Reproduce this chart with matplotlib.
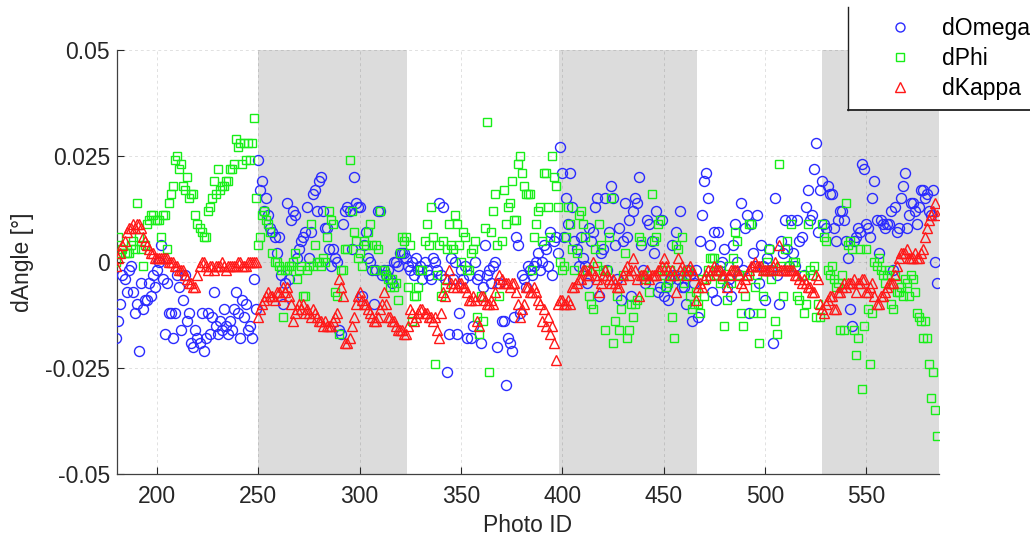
import numpy as np
import matplotlib
matplotlib.use("Agg")
import matplotlib.pyplot as plt
from matplotlib.lines import Line2D

plt.rcParams["font.family"] = ["Liberation Sans", "DejaVu Sans"]

# Photo IDs 180..585, one value per photo, angles stored in 1e-3 degrees
photo_id = list(range(180, 586))

d_omega = [
    -18, -14, -10, -3, -4, -7, -2, -1, -7, -12,      # 180
    -10, -21, -5, -11, -9, -9, -5, -8, -3, -6,       # 190
    -2, 0, 4, -4, -17, -5, -12, -12, -18, -12,       # 200
    -3, -6, -16, -9, -3, -14, -12, -19, -20, -16,    # 210
    -18, -19, -12, -21, -18, -12, -17, -13, -7, -15, # 220
    -17, -14, -16, -11, -15, -17, -14, -16, -11, -7, # 230
    -12, -18, -9, -13, -10, -16, -15, -18, -4, -11,  # 240
    24, 17, 19, 12, 15, 11, 8, 7, 6, 2,              # 250
    6, -3, -10, -5, 14, -4, 10, 12, 11, 1,           # 260
    3, 5, 6, 7, 13, 1, 7, 16, 17, 12,                # 270
    19, 20, 12, 8, 8, 3, -1, 3, 1, 0,                # 280
    -16, -17, 9, 12, 13, 12, 3, 20, 14, 13,          # 290
    13, -8, 4, 7, 1, 0, -2, -10, -2, 12,             # 300
    12, -3, -2, -3, -2, -4, -5, 0, 0, -1,            # 310
    2, 2, 2, 1, -1, -2, 0, -3, 1, -2,                # 320
    -1, -4, 0, -2, -3, -4, 1, 0, -2, 14,             # 330
    -3, 13, -4, -26, -17, 1, -4, 0, -17, -12,        # 340
    -2, -4, -1, -18, -3, -18, -15, 0, -4, -3,        # 350
    -19, -6, 4, -3, -2, -5, -1, 0, -20, -5,          # 360
    -14, -14, -29, -18, -19, -21, -13, 6, 4, -12,    # 370
    -3, -4, -6, -1, -2, -3, -1, 0, 2, -2,            # 380
    0, 4, 3, -1, 7, -3, 5, 6, 2, 27,                 # 390
    21, 6, 15, 9, 21, 13, 5, 3, -1, 6,               # 400
    1, -1, -5, 8, 5, 7, 13, 15, -8, 2,               # 410
    3, 15, -2, 7, 18, 15, 4, -4, 8, -9,              # 420
    5, 14, 6, 10, -8, 12, 15, 14, 20, 4,             # 430
    -2, -5, 10, 9, 5, 2, 12, -7, -6, 10,             # 440
    -8, -6, -9, -4, 4, -3, 7, -4, 12, -6,            # 450
    -6, -10, -2, -3, -14, -5, -2, -13, 5, 11,        # 460
    19, 21, 15, 4, -7, 7, -9, 7, -1, 0,              # 470
    3, -6, -4, -8, 4, 9, 0, -3, 14, -2,              # 480
    8, 11, -12, 9, 2, -1, 11, -5, 4, -1,             # 490
    -9, 1, 3, -2, -19, 15, -3, -10, 5, 2,            # 500
    10, 3, -1, 10, 2, -1, 10, 5, 6, -3,              # 510
    13, 17, 10, 11, 22, 28, 7, 17, 19, 9,            # 520
    8, 18, 16, 16, 8, 5, 10, 12, 12, 10,             # 530
    5, 1, -11, -15, 5, 6, 8, 7, 23, 22,              # 540
    9, 8, 6, 15, 19, 10, 2, 10, 9, 8,                # 550
    9, 9, 12, -2, 13, 7, 8, 15, 18, 21,              # 560
    8, 11, 14, 14, 12, 9, 13, 17, 17, 15,            # 570
    16, 12, 11, 17, 0, -5,                           # 580
]

d_phi = [
    0, 6, 2, 3, 2, 2, 2, 4, 5, 3,                    # 180
    14, 6, 3, -1, 4, 9, 10, 11, 11, 10,              # 190
    10, 10, 6, 11, 11, 3, 14, 16, 18, 24,            # 200
    25, 22, 23, 18, 17, 20, 15, 16, 16, 11,          # 210
    9, 8, 7, 6, 6, 12, 13, 15, 19, 16,               # 220
    22, 17, 18, 18, 19, 19, 22, 22, 23, 29,          # 230
    27, 28, 23, 28, 24, 28, 24, 28, 34, 15,          # 240
    4, 6, 11, 12, 10, 9, 7, 2, 0, 0,                 # 250
    -1, -2, -13, -2, -2, -1, -1, 0, 2, -4,           # 260
    -2, -1, -8, -8, -2, -1, 9, -1, 4, 0,             # 270
    0, -1, 1, 0, 6, 12, 10, 9, -7, -8,               # 280
    -17, -2, -2, 3, 3, 24, 12, 7, 5, 1,              # 290
    2, -1, 5, 4, 7, 9, 4, -2, 4, 3,                  # 300
    12, -2, -2, -3, -4, -6, -4, -6, -5, -9,          # 310
    2, 6, 5, 6, -6, 4, -14, -8, -8, -6,              # 320
    -2, -2, 5, 9, 4, 13, 6, -24, -3, 4,              # 330
    -8, 5, -6, 3, 9, 4, 3, 11, 9, 4,                 # 340
    0, 7, 6, -2, -2, 2, 3, 5, -13, -17,              # 350
    -8, -14, 8, 33, -26, 7, 12, 16, 4, -8,           # 360
    5, 17, 9, 13, 14, 19, 10, 10, 23, 25,            # 370
    21, 18, 16, 16, 16, -2, 6, 9, 12, 13,            # 380
    5, 21, 21, 13, 6, 25, 20, 18, 13, 0,             # 390
    -2, -1, 6, 13, 9, 3, -2, 2, 11, 12,              # 400
    9, 6, -2, -8, -10, -11, 3, -1, 9, 4,             # 410
    -2, -16, -2, 6, 15, -19, -14, -8, -16, -11,      # 420
    -3, 2, -18, -16, -10, -13, -10, -9, 6, 5,        # 430
    -3, -4, -3, -7, 16, 5, 6, 9, 10, -2,             # 440
    -3, -6, -5, -2, -13, -18, 4, 3, -3, 6,           # 450
    -5, -3, -2, -8, -11, -10, -7, -10, -12, -4,      # 460
    -8, -4, -2, 1, 1, 1, -3, -2, -5, -4,             # 470
    -15, -9, -1, -5, 1, 7, 5, -3, -12, -15,          # 480
    -8, -3, 9, 9, -12, -6, -3, -19, -12, -8,         # 490
    -2, 0, 3, -4, -2, -14, -17, 23, -1, -8,          # 500
    3, 5, -1, 9, 0, 0, -8, -9, -3, -12,              # 510
    -10, 9, -2, -3, -1, -13, -10, -13, 9, 6,         # 520
    5, -2, -3, -1, -4, -6, -5, -16, -3, -16,         # 530
    14, 4, 5, 3, -16, -22, -18, 3, -30, -15,         # 540
    3, -11, -24, -12, 0, -1, 1, -2, -3, -5,          # 550
    -3, -2, -10, -11, -3, -7, -7, -6, -8, -4,        # 560
    -5, -8, -3, -4, -7, -12, -13, -14, -18, -14,     # 570
    -18, -24, -32, -26, -35, -41,                    # 580
]

d_kappa = [
    -1, 1, 2, 4, 5, 7, 8, 8, 9, 8,                   # 180
    9, 9, 8, 6, 5, 4, 3, 2, 2, 1,                    # 190
    1, 1, 1, 1, 1, 1, 0, 0, 0, -1,                   # 200
    -1, -2, -2, -2, -3, -4, -5, -5, -6, -6,          # 210
    -3, -1, 0, 0, -1, -2, -1, -1, -2, -1,            # 220
    -1, -1, 0, -1, -2, -1, -1, -1, -1, -1,           # 230
    0, 0, -1, -1, -1, 0, 0, 0, 0, 0,                 # 240
    -13, -11, -10, -9, -8, -7, -8, -8, -9, -7,       # 250
    -7, -8, -6, -7, -6, -8, -10, -14, -12, -11,      # 260
    -10, -11, -10, -12, -11, -12, -13, -11, -12, -13, # 270
    -14, -14, -15, -14, -15, -15, -15, -14, -13, -12, # 280
    -4, -6, -8, -19, -19, -18, -15, -13, -10, -8,    # 290
    -7, -9, -10, -10, -11, -12, -13, -14, -14, -13,  # 300
    -11, -10, -7, -10, -13, -13, -14, -14, -15, -16, # 310
    -16, -16, -17, -17, -15, -11, -12, -14, -13, -12, # 320
    -11, -11, -12, -12, -13, -13, -14, -13, -16, -18, # 330
    -12, -7, -8, -4, -2, -5, -6, -5, -6, -5,         # 340
    -5, -6, -6, -7, -9, -9, -8, -9, -14, -15,        # 350
    -8, -8, -9, -10, -10, -9, -10, -7, -5, -3,       # 360
    -4, -5, -5, -5, -6, -5, -5, -7, -10, -13,        # 370
    -11, -10, -6, -6, -7, -7, -6, -7, -9, -10,       # 380
    -14, -11, -15, -13, -17, -15, -19, -23, -10, -9, # 390
    -9, -10, -10, -9, -10, -6, -6, -5, -4, -4,       # 400
    -2, -2, -3, -3, -2, 0, -3, -4, -7, -5,           # 410
    -3, -2, -3, -4, -5, -4, -5, -6, -6, -4,          # 420
    -3, -2, -1, -3, -2, 1, -2, -4, -8, -3,           # 430
    -3, -3, -2, -4, -3, -3, -3, -2, -2, -1,          # 440
    1, -1, -2, -3, -2, -3, -7, 1, -2, -1,            # 450
    -2, -3, -2, -1, -2, -3, -9, -6, -5, -6,          # 460
    -4, -3, -2, -3, -2, -1, -2, -2, -2, -3,          # 470
    -3, -6, -3, -2, -2, -2, -2, -3, -5, -6,          # 480
    -4, -3, -2, -1, -1, 0, -1, -1, -1, -2,           # 490
    -2, -2, -2, -2, -1, 0, -1, 4, -2, -2,            # 500
    -2, -2, -2, -2, -2, -3, -3, -4, -5, -4,          # 510
    -5, -6, -6, -7, -7, -3, -4, -10, -11, -12,       # 520
    -10, -9, -8, -8, -11, -11, -7, -7, -6, -5,       # 530
    -6, -5, -5, -5, -4, -7, -5, -5, -4, -4,          # 540
    -7, -7, -6, -5, -8, -10, -10, -8, -8, -7,        # 550
    -6, -5, -5, -5, -3, -1, 1, 2, 2, 2,              # 560
    3, 1, 1, 1, 2, 1, 1, 2, 3, 6,                    # 570
    8, 10, 11, 12, 14, 11,                           # 580
]

# grey bands (photo ID ranges)
bands = [(250, 323.5), (398.5, 466.5), (528, 590)]

x = np.array(photo_id)
scale = 1e-3
FS = 16.5

fig = plt.figure(figsize=(10.30, 5.37), dpi=100)
ax = fig.add_axes([0.1136, 0.1173, 0.798, 0.7897])

for x0, x1 in bands:
    ax.axvspan(x0, x1, color="#dcdcdc", lw=0, zorder=0)

ax.plot(x, np.array(d_omega) * scale, "o", ls="none", ms=7.2,
        mfc="none", mec="#2a2aff", mew=1.0, label="dOmega", zorder=3)
ax.plot(x, np.array(d_phi) * scale, "s", ls="none", ms=6.2,
        mfc="none", mec="#18ee18", mew=1.0, label="dPhi", zorder=3)
ax.plot(x, np.array(d_kappa) * scale, "^", ls="none", ms=7.8,
        mfc="none", mec="#ff1818", mew=1.0, label="dKappa", zorder=4)

ax.set_xlim(180.3, 585.8)
ax.set_ylim(-0.05, 0.05)
ax.set_xticks([200, 250, 300, 350, 400, 450, 500, 550])
ax.set_yticks([-0.05, -0.025, 0, 0.025, 0.05])
ax.set_yticklabels(["-0.05", "-0.025", "0", "0.025", "0.05"])
ax.grid(True, color="black", alpha=0.12, lw=0.7, ls=(0, (3, 3)), zorder=1)
ax.set_axisbelow(True)

for s in ("top", "right"):
    ax.spines[s].set_visible(False)
for s in ("left", "bottom"):
    ax.spines[s].set_color("#404040")
    ax.spines[s].set_linewidth(0.9)
ax.tick_params(axis="both", direction="in", length=5, width=0.8,
               labelsize=FS, colors="#262626", pad=5)
ax.tick_params(axis="x", pad=8)

ax.set_xlabel("Photo ID", fontsize=FS, color="#262626", labelpad=4)
ax.set_ylabel("dAngle [°]", fontsize=FS, color="#262626", labelpad=8)

# legend: box runs off the right/top edge, only left and bottom borders show
leg = ax.legend(loc="upper left", bbox_to_anchor=(848 / 1030, 1 - 7 / 537),
                bbox_transform=fig.transFigure, fontsize=FS, frameon=True,
                fancybox=False, borderpad=0.45, handlelength=3.6,
                handletextpad=0.05, labelspacing=0.3, numpoints=1,
                borderaxespad=0, markerscale=0.9)
leg.get_frame().set_edgecolor("none")
leg.get_frame().set_facecolor("white")
leg.get_frame().set_alpha(1)
leg.set_zorder(10)

fig.canvas.draw()
bb = leg.get_window_extent().transformed(fig.transFigure.inverted())
fig.add_artist(Line2D([bb.x0, bb.x0], [bb.y0, 1 - 7 / 537],
                      transform=fig.transFigure, color="#202020", lw=1.0))
fig.add_artist(Line2D([bb.x0, 1.0], [bb.y0, bb.y0],
                      transform=fig.transFigure, color="#202020", lw=1.3))

fig.savefig("out.png", dpi=100)
